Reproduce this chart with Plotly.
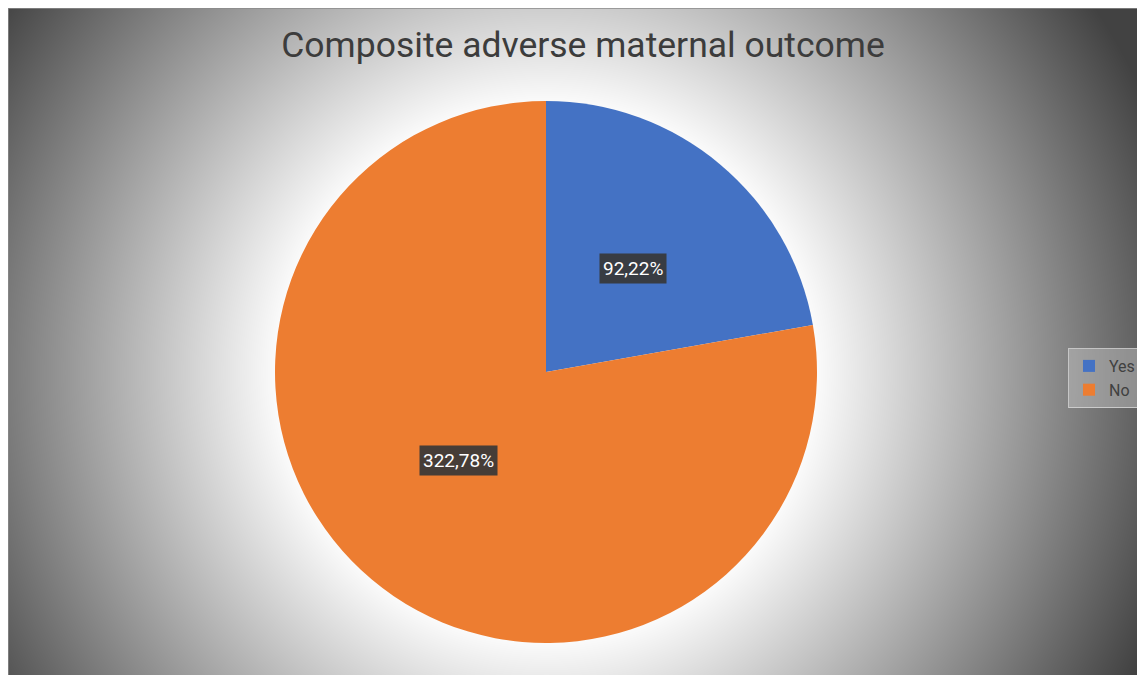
import base64, struct, zlib, math
import numpy as np
import plotly.graph_objects as go

# ---- data ----
categories = ["Yes", "No"]
values = [22.22, 77.78]
label_texts = ["92,22%", "322,78%"]
colors = ["#4472C4", "#ED7D31"]
title_text = "Composite adverse maternal outcome"

W, H = 1145, 675
# the page adds an 8px body margin; figure pixel coords below are page coords - 8
cx, cy, R = 538, 364, 271

# ---- background radial gradient as PNG ----
gw, gh = W, H
yy, xx = np.mgrid[0:gh, 0:gw]
d = np.hypot(xx - cx, yy - cy)
r0, r1 = 262.0, 660.0
t = np.clip((d - r0) / (r1 - r0), 0, 1)
g = (255 - t * (255 - 66)).astype(np.uint8)

def png_gray(arr):
    h, w = arr.shape
    raw = b"".join(b"\x00" + arr[i].tobytes() for i in range(h))
    def chunk(tag, data):
        c = struct.pack(">I", len(data)) + tag + data
        return c + struct.pack(">I", zlib.crc32(tag + data) & 0xffffffff)
    return (b"\x89PNG\r\n\x1a\n" + chunk(b"IHDR", struct.pack(">IIBBBBB", w, h, 8, 0, 0, 0, 0))
            + chunk(b"IDAT", zlib.compress(raw, 9)) + chunk(b"IEND", b""))

bg_uri = "data:image/png;base64," + base64.b64encode(png_gray(g)).decode()

fig = go.Figure()
fig.add_trace(go.Pie(
    labels=categories, values=values, sort=False, direction="clockwise", rotation=0,
    marker=dict(colors=colors, line=dict(width=0)),
    textinfo="none", hoverinfo="label+percent",
    domain=dict(x=[(cx - R) / W, (cx + R) / W], y=[(H - cy - R) / H, (H - cy + R) / H]),
))

# labels placed at the middle angle of each slice, half the radius out
total = sum(values)
cum = 0.0
annotations = []
for v, txt in zip(values, label_texts):
    mid = (cum + v / 2) / total * 2 * math.pi
    cum += v
    px = cx + 0.5 * R * math.sin(mid)
    py = cy - 0.5 * R * math.cos(mid)
    annotations.append(dict(
        x=px / W, y=1 - py / H, xref="paper", yref="paper", text=txt, showarrow=False,
        font=dict(family="Roboto", size=19, color="white"),
        bgcolor="rgba(55,55,55,0.92)", borderpad=3,
    ))

fig.update_layout(
    width=W, height=H,
    margin=dict(l=0, r=0, t=0, b=0),
    paper_bgcolor="white", plot_bgcolor="white",
    title=dict(text=title_text, x=575 / W, xanchor="center", y=1 - 37 / H, yanchor="middle",
               font=dict(family="Roboto", size=35.5, color="#3c3c3c")),
    legend=dict(x=1133 / W, y=1 - 340 / H, xanchor="right", yanchor="top",
                bgcolor="rgba(210,210,210,0.4)", bordercolor="rgba(215,215,215,0.8)", borderwidth=1,
                font=dict(family="Roboto", size=16, color="#404040"),
                itemwidth=30, tracegroupgap=0),
    images=[dict(source=bg_uri, xref="paper", yref="paper", x=0, y=1,
                 sizex=1, sizey=1, xanchor="left", yanchor="top",
                 sizing="stretch", layer="below")],
    shapes=[dict(type="rect", xref="paper", yref="paper", x0=0, x1=1,
                 y0=0, y1=1, line=dict(color="#8a8a8a", width=1.5),
                 layer="below")],
    annotations=annotations,
)

fig.write_html("out.html")
